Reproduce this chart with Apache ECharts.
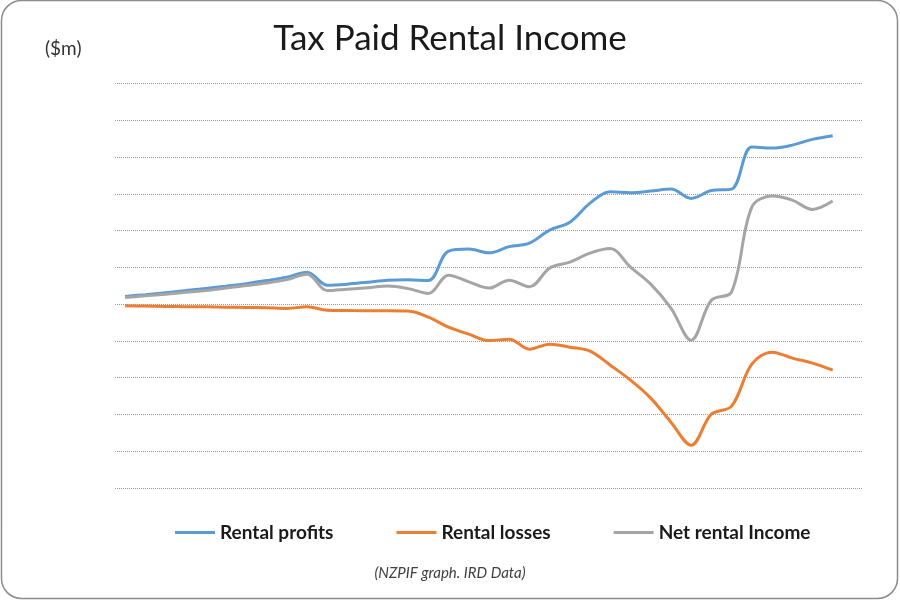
<!DOCTYPE html>
<html>
<head>
<meta charset="utf-8">
<script src="https://cdn.jsdelivr.net/npm/echarts@6/dist/echarts.min.js"></script>
<style>
html,body{margin:0;padding:0;background:#fff;}
#chart{width:900px;height:600px;}
</style>
</head>
<body>
<div id="chart"></div>
<script>
const years = ['1981','1982','1983','1984','1985','1986','1987','1988','1989','1990','1991','1992','1993','1994','1995','1996','1997','1998','1999','2000','2001','2002','2003','2004','2005','2006','2007','2008','2009','2010','2011','2012','2013','2014','2015','2016','2017'];
const rentalProfits = [105,129,156,184,214,245,279,320,367,435,258,272,299,326,333,320,721,748,698,782,830,1006,1115,1374,1527,1516,1537,1564,1438,1544,1564,2135,2122,2162,2240,2289];
const rentalLosses = [-23,-27,-31,-34,-37,-41,-45,-50,-58,-37,-82,-86,-91,-91,-95,-177,-313,-408,-496,-476,-612,-544,-585,-639,-830,-1034,-1278,-1605,-1918,-1496,-1387,-816,-653,-734,-802,-898];
const netRentalIncome = [91,113,136,163,186,218,252,286,333,408,184,204,224,245,211,146,394,303,218,326,235,490,571,694,755,503,272,-54,-490,54,167,1319,1469,1414,1288,1401];
const seriesNames = ['Rental profits','Rental losses','Net rental Income'];
const colors = ['#5B9BD5','#ED7D31','#A5A5A5'];

const chart = echarts.init(document.getElementById('chart'));
const mk = (name, data, color) => ({
  name, type: 'line', data, smooth: 0.35, showSymbol: false, symbol: 'none',
  lineStyle: {width: 3, color}, itemStyle: {color}
});
chart.setOption({
  animation: false,
  backgroundColor: '#fff',
  title: [
    {text: 'Tax Paid Rental Income', left: 'center', top: 16,
     textStyle: {fontFamily: 'Lato', fontSize: 35, fontWeight: 'normal', color: '#1a1a1a'}},
    {text: '(NZPIF graph. IRD Data)', left: 'center', top: 561,
     textStyle: {fontFamily: 'Lato', fontSize: 15, fontStyle: 'italic', fontWeight: 'normal', color: '#404040'}}
  ],
  graphic: [
    {type: 'rect', shape: {x: 1.5, y: 0.5, width: 896, height: 598, r: 20},
     style: {fill: 'none', stroke: '#8c8c8c', lineWidth: 1.5}, silent: true},
    {type: 'text', left: 45, top: 39,
     style: {text: '($m)', fontFamily: 'Lato', fontSize: 19, fill: '#333'}}
  ],
  legend: {
    data: seriesNames, left: 170, top: 518, icon: 'rect', itemWidth: 40, itemHeight: 3,
    itemGap: 63,
    textStyle: {fontFamily: 'Lato', fontSize: 19, fontWeight: 'bold', color: '#1a1a1a'}
  },
  grid: {left: 115, right: 37, top: 83.5, bottom: 112},
  xAxis: {
    type: 'category', data: years, boundaryGap: true,
    axisLine: {show: false}, axisTick: {show: false}, axisLabel: {show: false}, splitLine: {show: false}
  },
  yAxis: {
    type: 'value', min: -2500, max: 3000, interval: 500,
    axisLine: {show: false}, axisTick: {show: false}, axisLabel: {show: false},
    splitLine: {show: true, lineStyle: {type: 'dotted', color: '#999', width: 1}}
  },
  series: [
    mk(seriesNames[0], rentalProfits, colors[0]),
    mk(seriesNames[1], rentalLosses, colors[1]),
    mk(seriesNames[2], netRentalIncome, colors[2])
  ]
});
</script>
</body>
</html>
